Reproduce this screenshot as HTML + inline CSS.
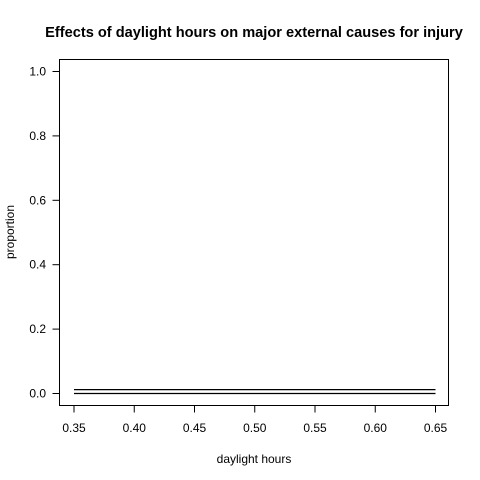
<!DOCTYPE html>
<html><head><meta charset="utf-8"><style>body{margin:0;background:#fff}svg{display:block;font-family:"Liberation Sans",Arial,sans-serif}</style></head>
<body>
<svg id="c" width="480" height="480">
<rect width="480" height="480" fill="#fff"/>
<text x="254" y="37" text-anchor="middle" font-weight="bold" font-size="14.6">Effects of daylight hours on major external causes for injury</text>
<rect x="59.5" y="59.5" width="389" height="346" fill="none" stroke="#000"/>
<text x="254" y="463" text-anchor="middle" font-size="12">daylight hours</text>
<text transform="translate(14,232) rotate(-90)" text-anchor="middle" font-size="12">proportion</text>
<g id="ax"></g><g id="ln"></g>
</svg>
<script>
const xTicks=[0.35,0.40,0.45,0.50,0.55,0.60,0.65];
const xTickLabels=["0.35","0.40","0.45","0.50","0.55","0.60","0.65"];
const yTicks=[0,0.2,0.4,0.6,0.8,1.0];
const yTickLabels=["0.0","0.2","0.4","0.6","0.8","1.0"];
const xValues=[0.35,0.65];
const seriesA=[0.012,0.012];
const seriesB=[0.0,0.0];
const NS="http://www.w3.org/2000/svg";
function sx(v){return 74+(v-0.35)/0.3*361.5;}
function sy(v){return 393.5-v*322;}
function mk(t,a,p){const e=document.createElementNS(NS,t);for(const k in a)e.setAttribute(k,a[k]);p.appendChild(e);return e;}
const ax=document.getElementById('ax');
xTicks.forEach((v,i)=>{
 const l=mk('line',{x1:sx(v),x2:sx(v),y1:405.5,y2:412.5,stroke:'#000'},ax);
 
 
 const t=mk('text',{x:sx(v),y:432,'text-anchor':'middle','font-size':12},ax);t.textContent=xTickLabels[i];
 
 
});
mk('line',{x1:sx(0.35),x2:sx(0.65),y1:405.5,y2:405.5,stroke:'#000'},ax);
yTicks.forEach((v,i)=>{
 const l=mk('line',{x1:52.5,x2:59.5,y1:sy(v),y2:sy(v),stroke:'#000'},ax);
 
 
 const t=mk('text',{x:46,y:sy(v)+4,'text-anchor':'end','font-size':12},ax);t.textContent=yTickLabels[i];
 
 
});
const ln=document.getElementById('ln');
[seriesA,seriesB].forEach((s,k)=>{
 const p=mk('polyline',{points:xValues.map((x,i)=>sx(x)+','+sy(s[i])).join(' '),fill:'none',stroke:'#000','stroke-width':1.2},ln);
 
 
});
</script>
</body></html>
